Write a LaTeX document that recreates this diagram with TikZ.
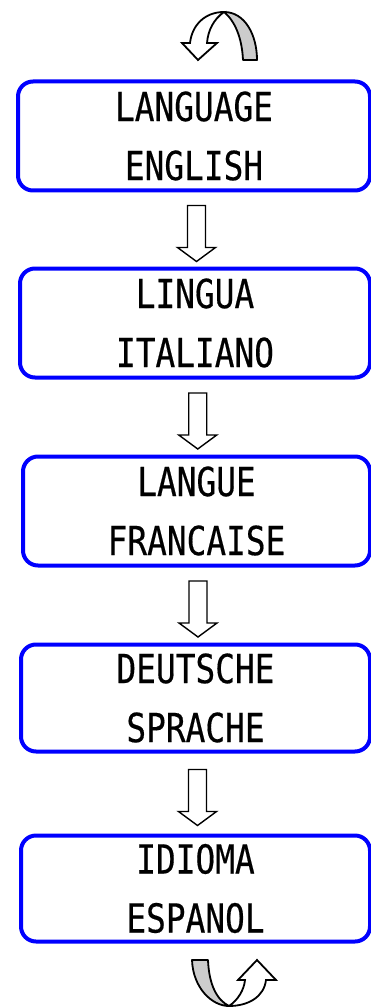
\documentclass[tikz,border=0pt]{standalone}
\usepackage{fontspec}
\usetikzlibrary{calc}
\newfontfamily\lcdfont[FakeStretch=0.82,FakeBold=0.4]{DejaVu Sans Mono}
\definecolor{boxblue}{RGB}{0,0,255}
\definecolor{ribbongray}{RGB}{204,204,204}
\tikzset{
  langbox/.style={draw=boxblue, line width=4pt, rounded corners=15pt, inner sep=0pt,
    align=center, font=\lcdfont\fontsize{40}{59}\selectfont},
  blockarrow/.style={draw=black, fill=white, line width=1.4pt, line join=miter},
  ribbonback/.style={draw=black, fill=ribbongray, line width=1.8pt, line join=round},
  ribbonfront/.style={draw=black, fill=white, line width=1.8pt, line join=miter},
}
\begin{document}
\begin{tikzpicture}[x=1pt, y=-1pt]
\useasboundingbox (0,0) rectangle (370,1008);

% boxes
\node[langbox, minimum width=352pt, minimum height=109pt] (b1) at (194,136) {LANGUAGE\\ENGLISH};
\node[langbox, minimum width=350pt, minimum height=109pt] (b2) at (195,323) {LINGUA\\ITALIANO};
\node[langbox, minimum width=347pt, minimum height=109pt] (b3) at (196.5,511) {LANGUE\\FRANCAISE};
\node[langbox, minimum width=349pt, minimum height=107pt] (b4) at (195.5,698) {DEUTSCHE\\SPRACHE};
\node[langbox, minimum width=349pt, minimum height=106pt] (b5) at (195.5,888.5) {IDIOMA\\ESPANOL};

% block arrows between boxes
\foreach \a/\b/\m in {b1/b2/m1, b2/b3/m2, b3/b4/m3, b4/b5/m4}{
  \coordinate (\m) at ($(\a.south)!0.5!(\b.north)+(2,4)$);
  \draw[blockarrow, shift={(\m)}] (-9,-28) -- (9,-28) -- (9,14) -- (19,14) -- (0,28)
     -- (-19,14) -- (-9,14) -- cycle;
}

% top U-turn arrow
\coordinate (topapex) at (224,12);
\draw[ribbonback] (topapex) .. controls (245,12) and (257,35) .. (257,60)
   -- (243,60) .. controls (242,38) and (235,21) .. (topapex) -- cycle;
\draw[ribbonfront] (topapex) .. controls (205,12) and (192,25) .. (190,43)
   -- (182,43) -- (198,60) -- (217,43) -- (207,43)
   .. controls (208,30) and (214,19) .. (topapex) -- cycle;

% bottom U-turn arrow
\coordinate (botapex) at (229,1006);
\draw[ribbonback] (192,960) -- (208,960) .. controls (209,985) and (217,1000) .. (botapex)
   .. controls (212,1006) and (193,988) .. (192,960) -- cycle;
\draw[ribbonfront] (botapex) .. controls (238,1000) and (244,990) .. (245,980)
   -- (238,980) -- (257,960) -- (276,980) -- (266,980)
   .. controls (264,997) and (248,1006) .. (botapex) -- cycle;
\end{tikzpicture}
\end{document}
